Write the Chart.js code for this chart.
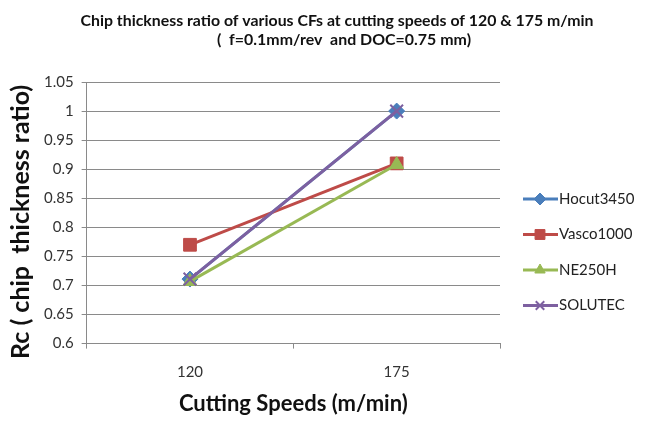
<!DOCTYPE html>
<html>
<head>
<meta charset="utf-8">
<script src="https://cdn.jsdelivr.net/npm/chart.js@4.4.1/dist/chart.umd.min.js"></script>
<style>
    html, body { margin: 0; padding: 0; background: #ffffff; }
    #wrap { width: 651px; height: 421px; }
</style>
</head>
<body>
<div id="wrap"><canvas id="rcChart" width="651" height="421"></canvas></div>
<script>
// ================= DATA =================
let speeds = ["120", "175"];

let hocut3450 = [0.711, 1.0];
let vasco1000 = [0.77, 0.91];
let ne250h = [0.707, 0.908];
let solutec = [0.711, 1.0];

let seriesNames = ["Hocut3450", "Vasco1000", "NE250H", "SOLUTEC"];

let titleLines = [
    "Chip thickness ratio of various CFs at cutting speeds of 120 & 175 m/min",
    "(  f=0.1mm/rev  and DOC=0.75 mm)"
];

// ================= STYLE =================
let font = "Lato, 'Open Sans', Arial, sans-serif";

let colors = ["#4a7ebb", "#be4b48", "#98b954", "#7d60a0"];
let markers = ["rectRot", "rect", "triangle", "crossRot"];
let markerSizes = [8, 9, 8, 9];

let seriesData = [hocut3450, vasco1000, ne250h, solutec];

let datasets = seriesData.map((vals, i) => ({
    label: seriesNames[i],
    data: vals,
    borderColor: colors[i],
    backgroundColor: colors[i],
    pointBackgroundColor: colors[i],
    pointBorderColor: colors[i],
    pointStyle: markers[i],
    pointRadius: markerSizes[i],
    pointBorderWidth: i === 3 ? 2 : 1,
    borderWidth: 3,
    tension: 0,
    order: 3 - i
}));

// ================= TITLE + LEGEND (drawn by hand) =================
let titleBox = [
    { cx: 337, base: 26, width: 513 },
    { cx: 344, base: 45, width: 254 }
];

let extras = {
    id: "extras",
    afterDraw(chart){

        let ctx = chart.ctx;

        ctx.save();

        /* ---- title ---- */
        ctx.fillStyle = "#111111";
        ctx.font = "bold 16px " + font;
        ctx.textAlign = "center";
        ctx.textBaseline = "alphabetic";

        titleLines.forEach((line, i) => {

            let box = titleBox[i];
            let w = ctx.measureText(line).width;

            ctx.save();
            ctx.translate(box.cx, box.base);
            ctx.scale(box.width / w, 1);
            ctx.fillText(line, 0, 0);
            ctx.restore();

        });

        /* ---- legend ---- */
        datasets.forEach((ds, i) => {

            let y = 199 + i * 35.5;

            ctx.strokeStyle = ds.borderColor;
            ctx.lineWidth = 3;
            ctx.beginPath();
            ctx.moveTo(523, y);
            ctx.lineTo(558, y);
            ctx.stroke();

            ctx.fillStyle = ds.backgroundColor;
            ctx.strokeStyle = ds.borderColor;
            ctx.lineWidth = ds.pointBorderWidth;
            Chart.helpers.drawPoint(ctx, {
                pointStyle: ds.pointStyle,
                rotation: 0,
                radius: i === 1 ? 7 : 6,
                borderWidth: ds.pointBorderWidth
            }, 540, y);

            ctx.fillStyle = "#222222";
            ctx.font = "15px " + font;
            ctx.textAlign = "left";
            ctx.textBaseline = "middle";
            ctx.fillText(ds.label, 559, y);

        });

        ctx.restore();

    }
};

// ================= CHART =================
new Chart(document.getElementById("rcChart"), {

    type: "line",

    data: {
        labels: speeds,
        datasets: datasets
    },

    options: {

        responsive: false,
        animation: false,

        layout: {
            padding: { left: 6, right: 151, top: 82, bottom: 4 }
        },

        plugins: {
            legend: { display: false },
            tooltip: { enabled: false },
            title: { display: false }
        },

        scales: {

            x: {
                offset: true,
                grid: {
                    display: true,
                    drawOnChartArea: false,
                    offset: true,
                    tickLength: 5,
                    color: "#8a8a8a"
                },
                border: { color: "#8a8a8a" },
                ticks: {
                    color: "#333333",
                    font: { family: font, size: 15 },
                    padding: 15
                },
                title: {
                    display: true,
                    text: "Cutting Speeds (m/min)",
                    color: "#111111",
                    font: { family: font, size: 22, weight: "bold" },
                    padding: { top: -6, bottom: 0 }
                }
            },

            y: {
                min: 0.6,
                max: 1.05,
                ticks: {
                    stepSize: 0.05,
                    color: "#333333",
                    font: { family: font, size: 15 },
                    padding: 8,
                    callback: v => Math.round(v * 100) / 100
                },
                grid: {
                    color: "#8a8a8a",
                    tickLength: 5
                },
                border: { color: "#8a8a8a" },
                title: {
                    display: true,
                    text: "Rc ( chip  thickness ratio)   ",
                    color: "#111111",
                    font: { family: font, size: 25, weight: "bold" },
                    padding: { top: 0, bottom: 0 }
                }
            }

        }

    },

    plugins: [extras]

});
</script>
</body>
</html>
